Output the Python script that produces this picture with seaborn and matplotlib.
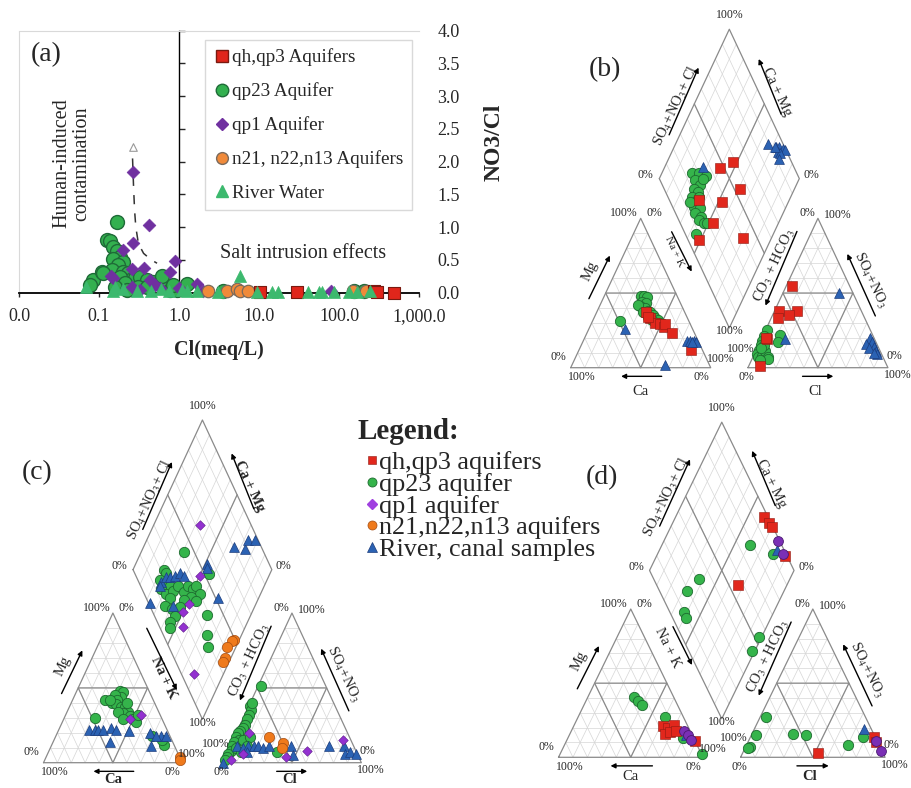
import numpy as np
import matplotlib
matplotlib.use("Agg")
import matplotlib.pyplot as plt
import seaborn as sns
from matplotlib.lines import Line2D

sns.set_style("ticks")
plt.rcParams["font.family"] = ["Liberation Serif", "DejaVu Serif"]
plt.rcParams["mathtext.fontset"] = "stix"

# ---------------- panel (a) data: Cl (meq/L) and NO3/Cl ----------------
qp23_cl = [0.166, 0.125, 0.137, 0.148, 0.166, 0.183, 0.151, 0.201, 0.174, 0.144, 0.201, 0.232,
           0.244, 0.282, 0.326, 0.395, 0.477, 0.579, 0.085, 0.077, 0.108, 0.113, 0.183, 0.211,
           0.158, 0.31, 0.395, 0.222, 0.772, 0.935, 1.25, 0.608, 0.84, 3.58, 151, 201]
qp23_ratio = [1.08, 0.80, 0.79, 0.70, 0.63, 0.55, 0.52, 0.47, 0.42, 0.35, 0.32, 0.30,
              0.20, 0.22, 0.24, 0.20, 0.17, 0.17, 0.19, 0.12, 0.32, 0.30, 0.24, 0.15,
              0.09, 0.09, 0.09, 0.04, 0.04, 0.04, 0.13, 0.26, 0.12, 0.02, 0.03, 0.02]
qp1_cl = [0.268, 0.425, 0.264, 0.201, 0.89, 0.36, 0.772, 0.257, 0.14, 0.431, 0.151, 0.257,
          0.579, 1.66, 1.0, 0.326, 2.0, 80, 0.5]
qp1_ratio = [1.85, 1.04, 0.76, 0.65, 0.49, 0.37, 0.32, 0.36, 0.25, 0.19, 0.22, 0.09,
             0.07, 0.13, 0.07, 0.04, 0.03, 0.02, 0.12]
n2_cl = [2.32, 3.97, 5.3, 5.8, 7.3, 150, 214]
n2_ratio = [0.02, 0.02, 0.05, 0.02, 0.02, 0.03, 0.02]
qh_cl = [10.3, 29.6, 270, 295, 487]
qh_ratio = [0.01, 0.01, 0.02, 0.01, 0.0]
river_cl = [0.068, 0.151, 0.2, 0.3, 0.45, 0.6, 0.16, 0.75, 1.1, 1.25, 1.66, 3.1, 5.8, 9.35,
            14.4, 17.4, 41.3, 55.1, 60.8, 84.9, 131, 166, 244]
river_ratio = [0.08, 0.02, 0.05, 0.03, 0.02, 0.05, 0.08, 0.03, 0.04, 0.02, 0.02, 0.01, 0.26, 0.01,
               0.01, 0.01, 0.01, 0.01, 0.01, 0.01, 0.01, 0.01, 0.02]
trend_cl = [0.262, 0.27, 0.278, 0.288, 0.31, 0.36, 0.45, 0.53]
trend_ratio = [2.05, 1.6, 1.25, 1.0, 0.75, 0.6, 0.5, 0.45]
trend_tip = ([0.262], [2.23])

x_ticks = [0.01, 0.1, 1, 10, 100, 1000]
x_tick_labels = ["0.0", "0.1", "1.0", "10.0", "100.0", "1,000.0"]
y_ticks = [0, 0.5, 1.0, 1.5, 2.0, 2.5, 3.0, 3.5, 4.0]

# ---------------- Piper data ----------------
# cation triangle: (Mg %, Na+K %); anion triangle: (SO4+NO3 %, Cl %);
# diamond: (Na+K %, SO4+NO3+Cl %)
b_green_cat = [(48, 26), (48, 28), (47, 31), (44, 29), (43, 32), (41, 29), (40, 33), (38, 36), (37, 38),
               (35, 41), (33, 44), (32, 46), (30, 49), (42, 27), (37, 33), (34, 38), (31, 20), (32, 42)]
b_red_cat = [(37, 35), (33, 40), (30, 45), (29, 49), (27, 53), (29, 53), (23, 61), (12, 80), (34, 38)]
b_blue_cat = [(26, 26), (2, 66), (18, 74), (18, 76), (18, 79), (17, 81), (17, 78)]
b_green_an = [(25, 1), (21, 1), (18, 1), (15, 2), (12, 2), (9, 2), (7, 4), (8, 6), (11, 7), (7, 11),
              (15, 4), (22, 12), (17, 13), (6, 11), (5, 6), (13, 3), (20, 3)]
b_red_an = [(55, 4), (38, 3), (38, 16), (35, 12), (33, 5), (19, 4), (20, 3), (1, 8)]
b_blue_an = [(50, 40), (19, 17), (20, 77), (17, 80), (14, 83), (16, 76), (13, 80), (11, 86), (9, 88), (10, 85)]
b_green_dia = [(21, 25), (26, 30), (32, 34), (26, 25), (31, 27), (28, 21), (32, 23), (29, 17), (34, 19),
               (34, 15), (39, 19), (37, 14), (43, 17), (42, 14), (47, 17), (49, 19), (45, 8), (31, 31),
               (30, 14), (34, 22)]
b_red_dia = [(47, 58), (40, 47), (61, 54), (53, 37), (35, 21), (53, 23), (80, 40), (49, 8)]
b_blue_dia = [(27, 35), (66, 89), (73, 94), (75, 96), (78, 98), (80, 99), (76, 94), (78, 95), (79, 92), (72, 93)]

c_green_cat = [(48, 31), (47, 34), (44, 34), (45, 29), (42, 32), (40, 29), (42, 23), (39, 33), (37, 37),
               (37, 40), (34, 44), (33, 41), (31, 47), (29, 50), (27, 53), (32, 52), (40, 40), (34, 37),
               (30, 22), (18, 69), (12, 81), (15, 78), (42, 27), (29, 43)]
c_blue_cat = [(22, 22), (22, 26), (22, 28), (22, 32), (23, 37), (22, 41), (21, 51), (14, 41), (20, 67),
              (18, 76), (18, 79), (11, 72), (18, 72)]
c_purple_cat = [(29, 48), (32, 54)]
c_orange_cat = [(4, 96), (2, 97)]
c_green_an = [(51, 2), (38, 1), (35, 3), (32, 3), (29, 3), (25, 4), (23, 3), (21, 2), (20, 1), (17, 1),
              (15, 4), (14, 1), (11, 1), (8, 2), (6, 1), (4, 1), (15, 7), (17, 11), (11, 12), (7, 36),
              (10, 5), (7, 10), (2, 1), (40, 1)]
c_blue_an = [(11, 5), (10, 10), (11, 13), (11, 17), (11, 20), (10, 24), (11, 28), (7, 14), (11, 44),
             (5, 48), (11, 71), (11, 82), (6, 85), (7, 88), (6, 93), (0, 0)]
c_purple_an = [(20, 9), (6, 12), (2, 5), (4, 44), (8, 57), (15, 79)]
c_orange_an = [(17, 25), (13, 37), (10, 38)]
c_green_dia = [(31, 43), (22, 22), (25, 23), (23, 16), (28, 18), (32, 21), (27, 14), (32, 16), (36, 22),
               (38, 27), (44, 29), (45, 34), (50, 37), (51, 40), (56, 40), (51, 33), (56, 35), (36, 17),
               (35, 11), (41, 15), (46, 15), (44, 9), (46, 7), (68, 38), (75, 31), (80, 28), (47, 27),
               (46, 21), (56, 53)]
c_blue_dia = [(24, 16), (26, 21), (29, 24), (32, 28), (35, 33), (39, 35), (41, 17), (51, 55), (53, 54),
              (71, 52), (65, 80), (74, 88), (73, 93), (78, 98), (23, 1), (25, 14)]
c_purple_dia = [(33, 63), (50, 46), (52, 29), (55, 17), (79, 9), (50, 22)]
c_orange_dia = [(96, 49), (95, 47), (94, 42), (96, 37), (96, 34)]

d_green_cat = [(41, 32), (38, 36), (35, 40), (27, 60), (13, 80), (2, 98)]
d_red_cat = [(21, 62), (20, 66), (22, 69), (16, 66), (17, 69), (18, 72), (11, 89)]
d_purple_cat = [(18, 78), (15, 82), (12, 86)]
d_blue_cat = [(15, 81)]
d_green_an = [(27, 4), (15, 3), (7, 3), (6, 2), (16, 28), (15, 38), (8, 70), (14, 78)]
d_red_an = [(3, 52), (14, 85), (10, 89)]
d_purple_an = [(11, 88), (4, 95)]
d_blue_an = [(19, 76)]
d_green_dia = [(61, 78), (80, 91), (37, 31), (33, 19), (38, 10), (41, 9), (98, 53), (98, 44)]
d_red_dia = [(61, 97), (67, 99), (70, 99), (89, 99), (66, 56)]
d_purple_dia = [(79, 99), (87, 98)]
d_blue_dia = [(81, 95)]

legend_labels = ["qh,qp3 aquifers", "qp23 aquifer", "qp1 aquifer", "n21,n22,n13 aquifers",
                 "River, canal samples"]

W, HPX = 912, 788
H = np.sqrt(3) / 2

RED, RED_E = "#e1271c", "#8e1a12"
GREEN, GREEN_E = "#35b44b", "#1d6a2f"
BLUE, BLUE_E = "#2b62b3", "#1b3c7c"
PURPLE, PURPLE_E = "#9331d0", "#5e1d8a"
ORANGE, ORANGE_E = "#ef7a1c", "#a34c12"

fig = plt.figure(figsize=(W / 100, HPX / 100), dpi=100)

# ======================= panel (a) =======================
ax = fig.add_axes([19 / W, 1 - 292.7 / HPX, 400.3 / W, 262 / HPX])
sns.lineplot(x=trend_cl, y=trend_ratio, ax=ax, sort=False, estimator=None, color="#333333",
             lw=1.1, linestyle=(0, (6, 6)), zorder=2)
sns.scatterplot(x=trend_tip[0], y=trend_tip[1], ax=ax, marker="^", s=30, color="white",
                edgecolor="#999999", linewidth=0.8, zorder=3)
sns.scatterplot(x=qp23_cl, y=qp23_ratio, ax=ax, marker="o", s=100, color="#33b04f",
                edgecolor="#1f6b38", linewidth=1.0, zorder=3, clip_on=False)
sns.scatterplot(x=qp1_cl, y=qp1_ratio, ax=ax, marker="D", s=42, color="#7030a0",
                edgecolor="#7030a0", linewidth=0.5, zorder=4, clip_on=False)
sns.scatterplot(x=n2_cl, y=n2_ratio, ax=ax, marker="o", s=80, color="#f08a3a",
                edgecolor="#7a6a5c", linewidth=0.9, zorder=4, clip_on=False)
sns.scatterplot(x=qh_cl, y=qh_ratio, ax=ax, marker="s", s=70, color="#e0261b",
                edgecolor="#7a1a10", linewidth=0.8, zorder=4, clip_on=False)
sns.scatterplot(x=river_cl, y=river_ratio, ax=ax, marker="^", s=75, color="#3cb96e",
                edgecolor="#3cb96e", linewidth=0.5, zorder=5, clip_on=False)

ax.set_xscale("log")
ax.set_xlim(0.01, 1000)
ax.set_ylim(0, 4)
ax.set_xticks(x_ticks)
ax.set_xticklabels(x_tick_labels)
ax.xaxis.set_minor_locator(matplotlib.ticker.NullLocator())
ax.set_xlabel("Cl(meq/L)", fontweight="bold", fontsize=14.5, labelpad=11)
ax.set_ylabel("")

ax2 = ax.twinx()
ax2.set_ylim(0, 4)
ax2.set_yticks(y_ticks)
ax2.set_yticklabels([f"{v:.1f}" for v in y_ticks])
ax2.tick_params(axis="y", length=0, pad=13, labelsize=13)
for sp in ax2.spines.values():
    sp.set_visible(False)
ax2.set_ylabel("NO3/Cl", fontweight="bold", fontsize=17)
ax2.yaxis.set_label_coords(1.16, 0.575)

ax.set_yticks(y_ticks)
ax.spines["left"].set_position(("data", 1.0))
ax.spines["left"].set_color("black")
ax.spines["left"].set_linewidth(1.0)
ax.spines["bottom"].set_color("black")
ax.spines["bottom"].set_linewidth(1.3)
ax.spines["top"].set_color("#d9d9d9")
ax.spines["top"].set_linewidth(0.8)
ax.spines["right"].set_visible(False)
ax.plot([0, 0], [0, 1], transform=ax.transAxes, color="#d9d9d9", lw=0.8, clip_on=False)
ax.tick_params(axis="y", left=True, right=False, direction="in", length=4, width=1, labelleft=False)
ax.tick_params(axis="x", direction="out", length=3, width=1, labelsize=13, pad=8)

leg_a = [
    Line2D([0], [0], marker="s", ls="none", markersize=8.5, markerfacecolor="#e0261b",
           markeredgecolor="#7a1a10", label="qh,qp3 Aquifers"),
    Line2D([0], [0], marker="o", ls="none", markersize=9, markerfacecolor="#33b04f",
           markeredgecolor="#1f6b38", label="qp23 Aquifer"),
    Line2D([0], [0], marker="D", ls="none", markersize=6.5, markerfacecolor="#7030a0",
           markeredgecolor="#7030a0", label="qp1 Aquifer"),
    Line2D([0], [0], marker="o", ls="none", markersize=8.5, markerfacecolor="#f08a3a",
           markeredgecolor="#7a6a5c", label="n21, n22,n13 Aquifers"),
    Line2D([0], [0], marker="^", ls="none", markersize=9, markerfacecolor="#3cb96e",
           markeredgecolor="#3cb96e", label="River Water"),
]
ax.legend(handles=leg_a, loc="upper left", bbox_to_anchor=(0.465, 0.965), frameon=True,
          fancybox=False, edgecolor="#d0d0d0", fontsize=13.8, labelspacing=0.84,
          handletextpad=0.05, handlelength=0.9, borderpad=0.45, borderaxespad=0)

ax.text(0.067, 0.907, "(a)", transform=ax.transAxes, fontsize=20, ha="center", va="center")
ax.text(0.132, 0.494, "Human-induced\ncontamination", transform=ax.transAxes, fontsize=14.5,
        rotation=90, ha="center", va="center", linespacing=1.1)
ax.text(0.709, 0.15, "Salt intrusion effects", transform=ax.transAxes, fontsize=14.5,
        ha="center", va="center")


# ======================= Piper helpers =======================
GRID = dict(color="#d6d6d6", lw=0.5, zorder=1)
EDGE = dict(color="#8a8a8a", lw=0.9, zorder=2)


def cation_xy(pts):
    mg, na = np.array(pts, dtype=float).T / 100
    return na + mg / 2, mg * H


def anion_xy(pts, g):
    so4, cl = np.array(pts, dtype=float).T / 100
    return 1 + g + cl + so4 / 2, so4 * H


def diamond_xy(n, a, g):
    lx, ly = 0.5 + g / 2, H * (1 + g)
    return lx + (a + n) / 2, ly + H * (a - n)


def dia_pts(pts, g):
    na, scl = np.array(pts, dtype=float).T / 100
    return diamond_xy(na, scl, g)


def piper_axes(x0, y0, s, k, g):
    xa, xb, ya, yb = -0.35, 2 + g + 0.35, -0.3, 2.2
    left = (x0 + s * xa) / W
    right = (x0 + s * xb) / W
    bottom = (HPX - (y0 - s * k * ya)) / HPX
    top = (HPX - (y0 - s * k * yb)) / HPX
    pax = fig.add_axes([left, bottom, right - left, top - bottom])
    return pax, (xa, xb, ya, yb)


def draw_frame(pax, g):
    for ox in (0, 1 + g):
        for i in range(1, 10):
            f = i / 10
            pax.plot([ox + f / 2, ox + 1 - f / 2], [f * H, f * H], **GRID)
            pax.plot([ox + f, ox + f + (1 - f) / 2], [0, (1 - f) * H], **GRID)
            pax.plot([ox + 1 - f, ox + (1 - f) / 2], [0, (1 - f) * H], **GRID)
        pax.plot([ox, ox + 1, ox + 0.5, ox], [0, 0, H, 0], **EDGE)
        pax.plot([ox + 0.5, ox + 0.25, ox + 0.75, ox + 0.5], [0, H / 2, H / 2, 0], **EDGE)
    for i in range(1, 10):
        f = i / 10
        x, y = diamond_xy(np.array([0, 1]), np.array([f, f]), g)
        pax.plot(x, y, **GRID)
        x, y = diamond_xy(np.array([f, f]), np.array([0, 1]), g)
        pax.plot(x, y, **GRID)
    x, y = diamond_xy(np.array([0, 0, 1, 1, 0]), np.array([0, 1, 1, 0, 0]), g)
    pax.plot(x, y, **EDGE)
    x, y = diamond_xy(np.array([0, 1]), np.array([0.5, 0.5]), g)
    pax.plot(x, y, **EDGE)
    x, y = diamond_xy(np.array([0.5, 0.5]), np.array([0, 1]), g)
    pax.plot(x, y, **EDGE)


def arrow(pax, p0, p1):
    pax.annotate("", xy=p1, xytext=p0, annotation_clip=False,
                 arrowprops=dict(arrowstyle="-|>", color="black", lw=1.0,
                                 mutation_scale=7, shrinkA=0, shrinkB=0))


def draw_labels(pax, g, k, bold, nak, low):
    ang = np.degrees(np.arctan(2 * H * k))
    ox, tx = 1 + g, 1 + g / 2

    def fw(key):
        return "bold" if key in bold else "normal"

    lab = dict(fontsize=10.5, ha="center", va="center", rotation_mode="anchor")
    pax.text(0.14, 0.56, "Mg", rotation=ang, fontweight=fw("Mg"), **lab)
    arrow(pax, (0.13, 0.40), (0.28, 0.65))
    pax.text(0.5, low, "Ca", fontweight=fw("Ca"), **lab)
    arrow(pax, (0.65, -0.05), (0.36, -0.05))
    pax.text(nak[0], nak[1], "Na + K", rotation=-ang, fontweight=fw("Na"),
             **{**lab, "fontsize": nak[4]})
    arrow(pax, nak[2], nak[3])
    pax.text(ox + 0.19, 0.59, r"CO$_3$ + HCO$_3$", rotation=ang, fontweight=fw("CO3"), **lab)
    arrow(pax, (ox + 0.35, 0.79), (ox + 0.125, 0.36))
    pax.text(ox + 0.87, 0.51, r"SO$_4$+NO$_3$", rotation=-ang, fontweight=fw("SO4"), **lab)
    arrow(pax, (ox + 0.91, 0.30), (ox + 0.71, 0.66))
    pax.text(ox + 0.48, low, "Cl", fontweight=fw("Cl"), **lab)
    arrow(pax, (ox + 0.39, -0.05), (ox + 0.61, -0.05))
    pax.text(tx - 0.38, 1.52, r"SO$_4$+NO$_3$+ Cl", rotation=ang, fontweight=fw("SNC"), **lab)
    arrow(pax, (tx - 0.43, 1.35), (tx - 0.22, 1.74))
    pax.text(tx + 0.34, 1.60, "Ca + Mg", rotation=-ang, fontweight=fw("CaMg"), **lab)
    arrow(pax, (tx + 0.37, 1.47), (tx + 0.21, 1.79))

    pc = dict(fontsize=8.5, va="center")
    pax.text(0.48, H + 0.03, "100%", ha="right", **pc)
    pax.text(0.54, H + 0.03, "0%", ha="left", **pc)
    pax.text(-0.03, 0.06, "0%", ha="right", **pc)
    pax.text(0.08, -0.055, "100%", ha="center", **pc)
    pax.text(0.93, -0.055, "0%", ha="center", **pc)
    pax.text(0.97, 0.05, "100%", ha="left", **pc)
    pax.text(ox + 0.48, H + 0.03, "0%", ha="right", **pc)
    pax.text(ox + 0.54, H + 0.02, "100%", ha="left", **pc)
    pax.text(ox + 0.05, 0.11, "100%", ha="right", **pc)
    pax.text(ox - 0.01, -0.055, "0%", ha="center", **pc)
    pax.text(ox + 0.99, 0.07, "0%", ha="left", **pc)
    pax.text(ox + 1.07, -0.045, "100%", ha="center", **pc)
    lx, ly = diamond_xy(0, 0, g)
    rx, ry = diamond_xy(1, 1, g)
    bx, by = diamond_xy(1, 0, g)
    ttx, tty = diamond_xy(0, 1, g)
    pax.text(ttx, tty + 0.08, "100%", ha="center", **pc)
    pax.text(lx - 0.04, ly + 0.02, "0%", ha="right", **pc)
    pax.text(rx + 0.03, ry + 0.02, "0%", ha="left", **pc)
    pax.text(bx, by - 0.02, "100%", ha="center", **pc)


def plot_series(pax, g, cat, an, dia, style):
    if cat:
        x, y = cation_xy(cat)
        sns.scatterplot(x=x, y=y, ax=pax, zorder=3, clip_on=False, **style)
    if an:
        x, y = anion_xy(an, g)
        sns.scatterplot(x=x, y=y, ax=pax, zorder=3, clip_on=False, **style)
    if dia:
        x, y = dia_pts(dia, g)
        sns.scatterplot(x=x, y=y, ax=pax, zorder=3, clip_on=False, **style)


RED_S = dict(marker="s", color=RED, edgecolor=RED_E, linewidth=0.4, s=45)
GREEN_S = dict(marker="o", color=GREEN, edgecolor=GREEN_E, linewidth=0.6, s=55)
BLUE_S = dict(marker="^", color=BLUE, edgecolor=BLUE_E, linewidth=0.5, s=50)
PURPLE_S = dict(marker="D", color=PURPLE, edgecolor=PURPLE_E, linewidth=0.4, s=24)
PURPLE_D = dict(marker="o", color="#7a2fb5", edgecolor="#4a1a70", linewidth=0.6, s=50)
ORANGE_S = dict(marker="o", color=ORANGE, edgecolor=ORANGE_E, linewidth=0.5, s=55)

panels = [
    # x0, y0, s, k, g, bold labels, Na+K placement, bottom label offset, series
    (570.7, 367.7, 140.0, 1.232, 0.266, set(),
     (0.739, 0.67, (0.721, 0.788), (0.864, 0.557), 8), -0.14,
     [(b_green_cat, b_green_an, b_green_dia, GREEN_S),
      (b_red_cat, b_red_an, b_red_dia, RED_S),
      (b_blue_cat, b_blue_an, b_blue_dia, BLUE_S)]),
    (43.5, 762.7, 138.8, 1.245, 0.29, {"Ca", "Cl", "Na", "CaMg"},
     (0.863, 0.494, (0.744, 0.778), (0.96, 0.421), 10.5), -0.10,
     [(c_green_cat, c_green_an, c_green_dia, GREEN_S),
      (c_blue_cat, c_blue_an, c_blue_dia, BLUE_S),
      (c_purple_cat, c_purple_an, c_purple_dia, PURPLE_S),
      (c_orange_cat, c_orange_an, c_orange_dia, ORANGE_S)]),
    (558.5, 757.3, 144.5, 1.185, 0.26, {"Cl"},
     (0.758, 0.637, (0.792, 0.763), (0.924, 0.539), 10.5), -0.11,
     [(d_green_cat, d_green_an, d_green_dia, GREEN_S),
      (d_red_cat, d_red_an, d_red_dia, RED_S),
      (d_blue_cat, d_blue_an, d_blue_dia, BLUE_S),
      (d_purple_cat, d_purple_an, d_purple_dia, PURPLE_D)]),
]

for x0, y0, s, k, g, bold, nak, low, series in panels:
    pax, lims = piper_axes(x0, y0, s, k, g)
    draw_frame(pax, g)
    for cat, an, dia, style in series:
        plot_series(pax, g, cat, an, dia, style)
    draw_labels(pax, g, k, bold, nak, low)
    pax.set_xlim(lims[0], lims[1])
    pax.set_ylim(lims[2], lims[3])
    pax.axis("off")

fig.text(605 / W, 1 - 70 / HPX, "(b)", fontsize=20, ha="center", va="center")
fig.text(37 / W, 1 - 473 / HPX, "(c)", fontsize=20, ha="center", va="center")
fig.text(602 / W, 1 - 478 / HPX, "(d)", fontsize=20, ha="center", va="center")

# ---------------- shared legend for (b)-(d) ----------------
fig.text(358 / W, 1 - 431.7 / HPX, "Legend:", fontsize=21, fontweight="bold",
         ha="left", va="center")
leg_c = [
    Line2D([0], [0], marker="s", ls="none", markersize=6, markerfacecolor=RED,
           markeredgecolor=RED_E, markeredgewidth=0.4),
    Line2D([0], [0], marker="o", ls="none", markersize=6.5, markerfacecolor=GREEN,
           markeredgecolor=GREEN_E, markeredgewidth=0.6),
    Line2D([0], [0], marker="D", ls="none", markersize=5, markerfacecolor="#a040e0",
           markeredgecolor="#a040e0"),
    Line2D([0], [0], marker="o", ls="none", markersize=6.5, markerfacecolor=ORANGE,
           markeredgecolor=ORANGE_E, markeredgewidth=0.5),
    Line2D([0], [0], marker="^", ls="none", markersize=6.5, markerfacecolor=BLUE,
           markeredgecolor=BLUE_E, markeredgewidth=0.5),
]
fig.legend(handles=leg_c, labels=legend_labels, loc="upper left",
           bbox_to_anchor=(365 / W, 1 - 451 / HPX), frameon=False,
           fontsize=18.8, labelspacing=-0.06, handletextpad=0.03, handlelength=0.52,
           borderpad=0, borderaxespad=0)

fig.savefig("out.png", dpi=100)
